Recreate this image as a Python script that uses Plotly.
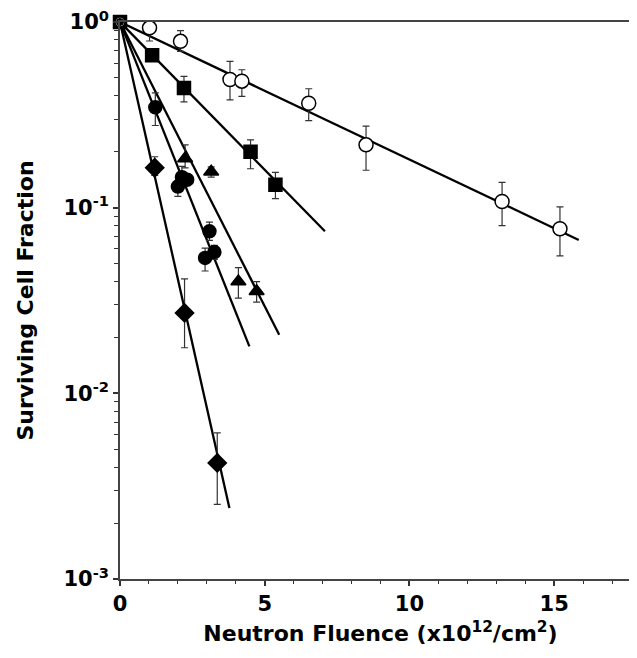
import plotly.graph_objects as go

# ---- data ----
open_x = [0, 1.02, 2.09, 3.80, 4.21, 6.52, 8.5, 13.2, 15.2]
open_y = [1.0, 0.93, 0.787, 0.49, 0.48, 0.365, 0.218, 0.108, 0.077]
open_plus = [0, 0.05, 0.111, 0.124, 0.073, 0.072, 0.057, 0.029, 0.024]
open_minus = [0, 0.14, 0.092, 0.109, 0.082, 0.071, 0.059, 0.028, 0.022]
open_fit_x = [0, 15.85]
open_fit_y = [1.0, 0.067]

sq_x = [0, 1.11, 2.21, 4.51, 5.37]
sq_y = [1.0, 0.662, 0.441, 0.20, 0.133]
sq_plus = [0, 0.03, 0.069, 0.032, 0.022]
sq_minus = [0, 0.03, 0.07, 0.038, 0.021]
sq_fit_x = [0, 7.08]
sq_fit_y = [1.0, 0.0746]

fc_x = [0, 1.22, 2.0, 2.14, 2.32, 2.94, 3.09, 3.26]
fc_y = [1.0, 0.347, 0.130, 0.146, 0.1415, 0.0536, 0.0746, 0.0577]
fc_plus = [0, 0.068, 0.01, 0.021, 0.01, 0.007, 0.009, 0.005]
fc_minus = [0, 0.07, 0.015, 0.01, 0.01, 0.008, 0.008, 0.005]
fc_fit_x = [0, 4.47]
fc_fit_y = [1.0, 0.0179]

tri_x = [0, 2.25, 3.15, 4.09, 4.72]
tri_y = [1.0, 0.184, 0.156, 0.040, 0.0355]
tri_plus = [0, 0.034, 0.01, 0.0075, 0.0045]
tri_minus = [0, 0.02, 0.01, 0.0074, 0.0045]
tri_fit_x = [0, 5.5]
tri_fit_y = [1.0, 0.0207]

dia_x = [0, 1.2, 2.23, 3.36]
dia_y = [1.0, 0.164, 0.0271, 0.00422]
dia_plus = [0, 0.024, 0.0143, 0.0019]
dia_minus = [0, 0.015, 0.0095, 0.0017]
dia_fit_x = [0, 3.78]
dia_fit_y = [1.0, 0.00241]

x_tickvals = [0, 5, 10, 15]
x_ticktext = ["0", "5", "10", "15"]
y_tickvals = [1e-3, 1e-2, 1e-1, 1]
y_ticktext = ["10<sup>-3</sup>", "10<sup>-2</sup>", "10<sup>-1</sup>", "10<sup>0</sup>"]

FONT = "DejaVu Sans"

fig = go.Figure()

# (x, y, plus, minus, fit_x, fit_y, symbol, fill, size, origin_size)
series = [
    (sq_x, sq_y, sq_plus, sq_minus, sq_fit_x, sq_fit_y, "square", "black", 13, 13),
    (open_x, open_y, open_plus, open_minus, open_fit_x, open_fit_y, "circle", "white", 14, 10),
    (fc_x, fc_y, fc_plus, fc_minus, fc_fit_x, fc_fit_y, "circle", "black", 13, 6),
    (tri_x, tri_y, tri_plus, tri_minus, tri_fit_x, tri_fit_y, "triangle-up", "black", 13, 5),
    (dia_x, dia_y, dia_plus, dia_minus, dia_fit_x, dia_fit_y, "diamond", "black", 14, 5),
]

for (x, y, p, m, fx, fy, sym, fill, sz, osz) in series:
    fig.add_trace(go.Scatter(x=fx, y=fy, mode="lines",
                             line=dict(color="black", width=2.3),
                             showlegend=False, hoverinfo="skip"))

for (x, y, p, m, fx, fy, sym, fill, sz, osz) in series:
    sizes = [osz if xv == 0 else sz for xv in x]
    fig.add_trace(go.Scatter(
        x=x, y=y, mode="markers",
        marker=dict(symbol=sym, size=sizes, color=fill, opacity=1,
                    line=dict(color="black", width=1.5)),
        error_y=dict(type="data", symmetric=False, array=p, arrayminus=m,
                     color="#333333", thickness=1.2, width=3.5),
        cliponaxis=False, showlegend=False))

fig.update_layout(
    width=637, height=658,
    margin=dict(l=112, r=4, t=14, b=87),
    paper_bgcolor="white", plot_bgcolor="white",
    font=dict(family=FONT, color="black"),
)

fig.update_xaxes(
    range=[0, 18], tickmode="array", tickvals=x_tickvals, ticktext=x_ticktext,
    ticks="outside", ticklen=5, tickwidth=1.5, tickcolor="#333",
    minor=dict(ticks="outside", ticklen=3, tickwidth=1.2, tickcolor="#333", dtick=1, tick0=0),
    showline=True, linecolor="#444", linewidth=1.5, mirror=True,
    showgrid=False, zeroline=False, automargin=False, ticklabeloverflow="allow",
    tickfont=dict(family=FONT, size=21, weight="bold"),
    title=dict(text="Neutron Fluence (x10<sup>12</sup>/cm<sup>2</sup>)",
               font=dict(family=FONT, size=22, weight="bold"), standoff=11),
)

minor_y = [m * 10 ** e for e in (-3, -2, -1) for m in range(2, 10)]
fig.update_yaxes(
    type="log", range=[-3, 0], tickmode="array", tickvals=y_tickvals, ticktext=y_ticktext,
    ticks="outside", ticklen=5, tickwidth=1.5, tickcolor="#333",
    minor=dict(ticks="outside", ticklen=4, tickwidth=1.2, tickcolor="#333",
               tickmode="array", tickvals=minor_y),
    showline=True, linecolor="#444", linewidth=1.5, mirror=True,
    showgrid=False, zeroline=False, automargin=False, ticklabeloverflow="allow",
    tickfont=dict(family=FONT, size=21, weight="bold"),
    title=dict(text="Surviving Cell Fraction",
               font=dict(family=FONT, size=22, weight="bold"), standoff=24),
)

fig.write_html("out.html")
